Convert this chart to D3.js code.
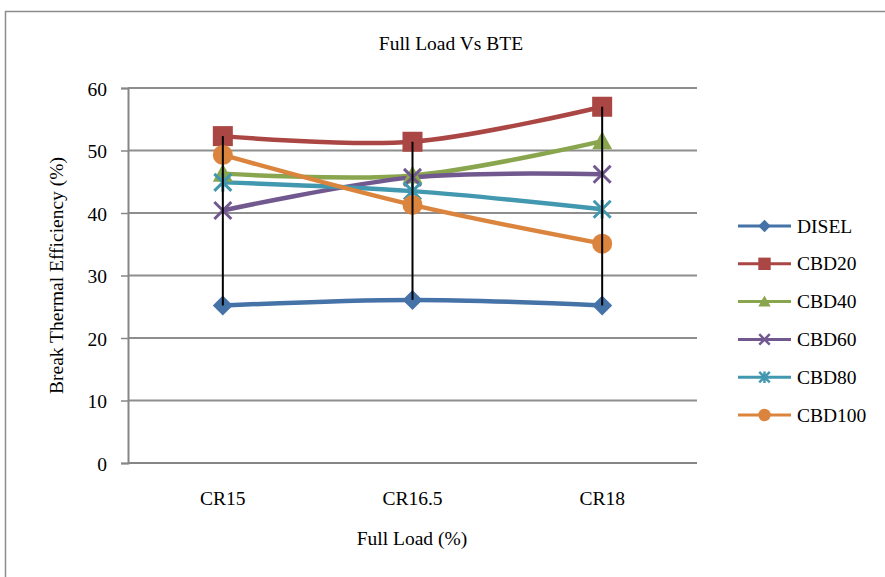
<!DOCTYPE html>
<html>
<head>
<meta charset="utf-8">
<script src="https://cdn.jsdelivr.net/npm/d3@7"></script>
<style>
  body { margin: 0; background: #fff; }
  text { font-family: "Liberation Serif", "Times New Roman", serif; fill: #000; }
</style>
</head>
<body>
<div id="chart"></div>
<script>
var categories = ["CR15", "CR16.5", "CR18"];
var seriesNames = ["DISEL", "CBD20", "CBD40", "CBD60", "CBD80", "CBD100"];
var disel = [25.2, 26.1, 25.2];
var cbd20 = [52.3, 51.4, 57.0];
var cbd40 = [46.3, 46.0, 51.5];
var cbd60 = [40.4, 45.7, 46.2];
var cbd80 = [44.9, 43.5, 40.6];
var cbd100 = [49.3, 41.3, 35.1];
var yTicks = [0, 10, 20, 30, 40, 50, 60];

var colors = ["#4572a7", "#aa4643", "#89a54e", "#71588f", "#4198af", "#db843d"];
var shapes = ["diamond", "square", "triangle", "x", "star", "circle"];
var allValues = [disel, cbd20, cbd40, cbd60, cbd80, cbd100];

var svgWidth = 885, svgHeight = 577;
var fontSize = "19.5px";
var margin = { left: 128, right: 188, top: 88, bottom: 114 };
var width = 697 - margin.left;
var height = 463 - margin.top;

var svg = d3.select("#chart").append("svg")
    .attr("width", svgWidth)
    .attr("height", svgHeight);

// chart frame
svg.append("rect")
    .attr("x", 5.5).attr("y", 11.5)
    .attr("width", 900).attr("height", 600)
    .attr("fill", "none")
    .attr("stroke", "#8c8c8c")
    .attr("stroke-width", 1.5);

var chartGroup = svg.append("g")
    .attr("transform", `translate(${margin.left}, ${margin.top})`);

var xScale = d3.scaleBand().domain(categories).range([0, width]);
var yScale = d3.scaleLinear().domain([0, 60]).range([height, 0]);
var xc = d => xScale(d) + xScale.bandwidth() / 2;

// gridlines
chartGroup.selectAll(".grid")
    .data(yTicks.filter(t => t > 0))
    .enter().append("line")
    .attr("x1", 0).attr("x2", width)
    .attr("y1", d => yScale(d)).attr("y2", d => yScale(d))
    .attr("stroke", "#8e8e8e")
    .attr("stroke-width", 1.8);

// y axis
var yAxis = d3.axisLeft(yScale).tickValues(yTicks).tickSize(7).tickPadding(14);
var yG = chartGroup.append("g").call(yAxis);
yG.select(".domain").attr("stroke", "#868686").attr("stroke-width", 2);
yG.selectAll(".tick line").attr("stroke", "#868686").attr("stroke-width", 1.5);
yG.selectAll("text").attr("font-size", fontSize).attr("dy", "0.36em");

// x axis line
chartGroup.append("line")
    .attr("x1", 0).attr("x2", width)
    .attr("y1", height).attr("y2", height)
    .attr("stroke", "#868686").attr("stroke-width", 2);

chartGroup.selectAll(".xlab")
    .data(categories)
    .enter().append("text")
    .attr("x", d => xc(d))
    .attr("y", height + 42)
    .attr("text-anchor", "middle")
    .attr("font-size", fontSize)
    .text(d => d);

// lines
var line = d3.line()
    .x((d, i) => xc(categories[i]))
    .y(d => yScale(d))
    .curve(d3.curveCatmullRom.alpha(0));

allValues.forEach(function(vals, s) {
  chartGroup.append("path")
      .datum(vals)
      .attr("d", line)
      .attr("fill", "none")
      .attr("stroke", colors[s])
      .attr("stroke-width", 4.5);
});

function drawMarker(g, shape, color, cx, cy, k) {
  k = k || 1;
  if (shape === "diamond") {
    var r = 10 * k;
    g.append("path").attr("d", `M${cx},${cy - r}L${cx + r},${cy}L${cx},${cy + r}L${cx - r},${cy}Z`).attr("fill", color);
  } else if (shape === "square") {
    var h = 10 * k;
    g.append("rect").attr("x", cx - h).attr("y", cy - h).attr("width", 2 * h).attr("height", 2 * h).attr("fill", color);
  } else if (shape === "triangle") {
    var t = 10 * k;
    g.append("path").attr("d", `M${cx},${cy - t}L${cx + t},${cy + t * 0.8}L${cx - t},${cy + t * 0.8}Z`).attr("fill", color);
  } else if (shape === "x") {
    var a = 8.5 * k;
    g.append("path").attr("d", `M${cx - a},${cy - a}L${cx + a},${cy + a}M${cx - a},${cy + a}L${cx + a},${cy - a}`)
      .attr("stroke", color).attr("stroke-width", 3 * Math.min(1, k + 0.2));
  } else if (shape === "star") {
    var b = 8.5 * k;
    g.append("path").attr("d", `M${cx - b},${cy - b}L${cx + b},${cy + b}M${cx - b},${cy + b}L${cx + b},${cy - b}M${cx},${cy - b * 1.1}L${cx},${cy + b * 1.1}`)
      .attr("stroke", color).attr("stroke-width", 3 * Math.min(1, k + 0.2));
  } else {
    g.append("circle").attr("cx", cx).attr("cy", cy).attr("r", 10 * k).attr("fill", color);
  }
}

// markers
allValues.forEach(function(vals, s) {
  vals.forEach(function(v, i) {
    drawMarker(chartGroup, shapes[s], colors[s], xc(categories[i]), yScale(v));
  });
});

// high-low lines
categories.forEach(function(c, i) {
  var col = allValues.map(v => v[i]);
  chartGroup.append("line")
      .attr("x1", xc(c)).attr("x2", xc(c))
      .attr("y1", yScale(d3.max(col))).attr("y2", yScale(d3.min(col)))
      .attr("stroke", "#000").attr("stroke-width", 2);
});

// title and axis titles
svg.append("text")
    .attr("x", 451).attr("y", 50)
    .attr("text-anchor", "middle")
    .attr("font-size", fontSize)
    .text("Full Load Vs BTE");

svg.append("text")
    .attr("x", 412).attr("y", 545)
    .attr("text-anchor", "middle")
    .attr("font-size", fontSize)
    .text("Full Load (%)");

svg.append("g")
    .attr("transform", `translate(63, ${margin.top + height / 2})`)
    .append("text")
    .attr("transform", "rotate(-90)")
    .attr("text-anchor", "middle")
    .attr("font-size", fontSize)
    .text("Break Thermal Efficiency (%)");

// legend
var legend = svg.append("g").attr("transform", "translate(738, 226)");
seriesNames.forEach(function(name, s) {
  var y = s * 37.8;
  legend.append("line")
      .attr("x1", 0).attr("x2", 53)
      .attr("y1", y).attr("y2", y)
      .attr("stroke", colors[s]).attr("stroke-width", 3);
  drawMarker(legend, shapes[s], colors[s], 26.5, y, 0.62);
  legend.append("text")
      .attr("x", 59).attr("y", y + 6.5)
      .attr("font-size", fontSize)
      .text(name);
});
</script>
</body>
</html>
